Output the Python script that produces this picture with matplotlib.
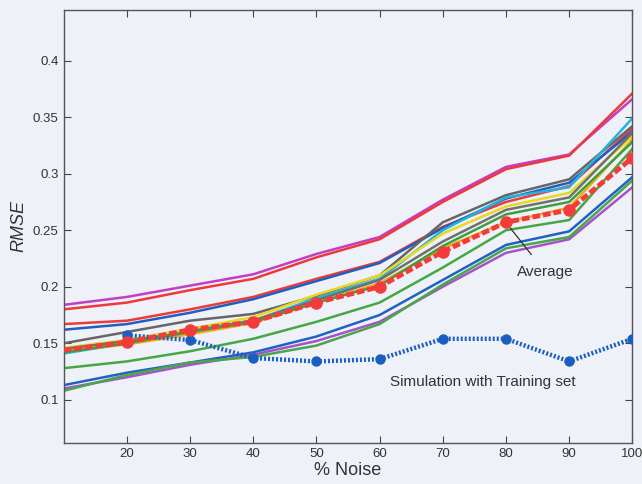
import numpy as np
import matplotlib
matplotlib.use('Agg')
import matplotlib.pyplot as plt

plt.rcParams['font.family'] = ['Liberation Sans', 'DejaVu Sans']

noise = [10, 20, 30, 40, 50, 60, 70, 80, 90, 100]

# individual runs (top to bottom at 10 % noise)
runs = {
    'magenta_top': [0.184, 0.191, 0.201, 0.211, 0.229, 0.244, 0.277, 0.306, 0.317, 0.366],
    'red_top':     [0.180, 0.186, 0.197, 0.207, 0.226, 0.242, 0.275, 0.304, 0.316, 0.371],
    'red_mid':     [0.167, 0.170, 0.180, 0.191, 0.207, 0.222, 0.253, 0.275, 0.289, 0.340],
    'blue_mid':    [0.162, 0.167, 0.177, 0.189, 0.205, 0.221, 0.252, 0.278, 0.292, 0.337],
    'gray_top':    [0.150, 0.160, 0.170, 0.176, 0.192, 0.210, 0.257, 0.281, 0.295, 0.342],
    'cyan':        [0.141, 0.150, 0.162, 0.170, 0.190, 0.207, 0.250, 0.279, 0.288, 0.349],
    'yellow':      [0.146, 0.153, 0.163, 0.173, 0.193, 0.210, 0.247, 0.271, 0.283, 0.333],
    'gray2':       [0.145, 0.152, 0.160, 0.170, 0.188, 0.206, 0.240, 0.268, 0.279, 0.336],
    'orange':      [0.143, 0.149, 0.158, 0.168, 0.186, 0.203, 0.234, 0.257, 0.270, 0.330],
    'green1':      [0.142, 0.150, 0.160, 0.169, 0.186, 0.201, 0.236, 0.264, 0.275, 0.328],
    'green2':      [0.128, 0.134, 0.143, 0.154, 0.169, 0.186, 0.217, 0.250, 0.259, 0.322],
    'blue_low':    [0.113, 0.124, 0.133, 0.142, 0.156, 0.175, 0.206, 0.237, 0.249, 0.297],
    'purple_low':  [0.110, 0.120, 0.131, 0.140, 0.152, 0.169, 0.200, 0.230, 0.242, 0.288],
    'green_low':   [0.108, 0.122, 0.133, 0.138, 0.148, 0.167, 0.202, 0.234, 0.244, 0.294],
}
run_colors = {
    'magenta_top': '#c23fc4', 'red_top': '#f0383a', 'red_mid': '#ee3a36',
    'blue_mid': '#1f5fc2', 'gray_top': '#666666', 'cyan': '#22b4d8',
    'yellow': '#e8d820', 'gray2': '#707070', 'orange': '#f2a818',
    'green1': '#3ca040', 'green2': '#45a845', 'blue_low': '#1f62c6',
    'purple_low': '#a653c8', 'green_low': '#4aa64a',
}

average = [0.144, 0.151, 0.162, 0.169, 0.186, 0.200, 0.231, 0.257, 0.268, 0.314]

train_noise = [20, 30, 40, 50, 60, 70, 80, 90, 100]
training = [0.157, 0.153, 0.137, 0.134, 0.136, 0.154, 0.154, 0.134, 0.154]

bg = '#eef1f7'
fig = plt.figure(figsize=(6.42, 4.84), dpi=100, facecolor=bg)
ax = fig.add_axes([0.099, 0.085, 0.886, 0.895], facecolor=bg)

for name, vals in runs.items():
    ax.plot(noise, vals, color=run_colors[name], lw=1.8, zorder=2)

ax.plot(train_noise, training, color='#1a5fc0', lw=3.2, ls=(0, (0.45, 0.45)),
        marker='o', ms=6.5, zorder=3)
ax.plot(noise, average, color='#f23c3c', lw=3.5, ls=(0, (1.6, 0.6)),
        marker='o', ms=8, markevery=range(1, 10), zorder=4)

ax.annotate('Average', xy=(80.4, 0.254), xytext=(86.2, 0.213),
            ha='center', va='center', fontsize=11, color='#333333',
            arrowprops=dict(arrowstyle='-', color='#333333', lw=0.9,
                            shrinkA=7, shrinkB=2))
ax.text(76.4, 0.116, 'Simulation with Training set', ha='center', va='center',
        fontsize=11, color='#333333')

ax.set_xlim(10, 100)
ax.set_ylim(0.062, 0.445)
ax.set_xticks(range(20, 101, 10))
ax.set_yticks([0.1, 0.15, 0.2, 0.25, 0.3, 0.35, 0.4])
ax.set_yticklabels(['0.1', '0.15', '0.2', '0.25', '0.3', '0.35', '0.4'])
ax.tick_params(direction='in', top=True, right=True, length=5,
               labelsize=9.5, colors='#444444', labelcolor='#333333')
for s in ax.spines.values():
    s.set_color('#555555')
    s.set_linewidth(1.0)

ax.set_xlabel('% Noise', fontsize=13, color='#333333', labelpad=2)
ax.set_ylabel('RMSE', fontsize=13, style='italic', color='#333333', labelpad=4)

fig.savefig('out.png', dpi=100, facecolor=bg)
